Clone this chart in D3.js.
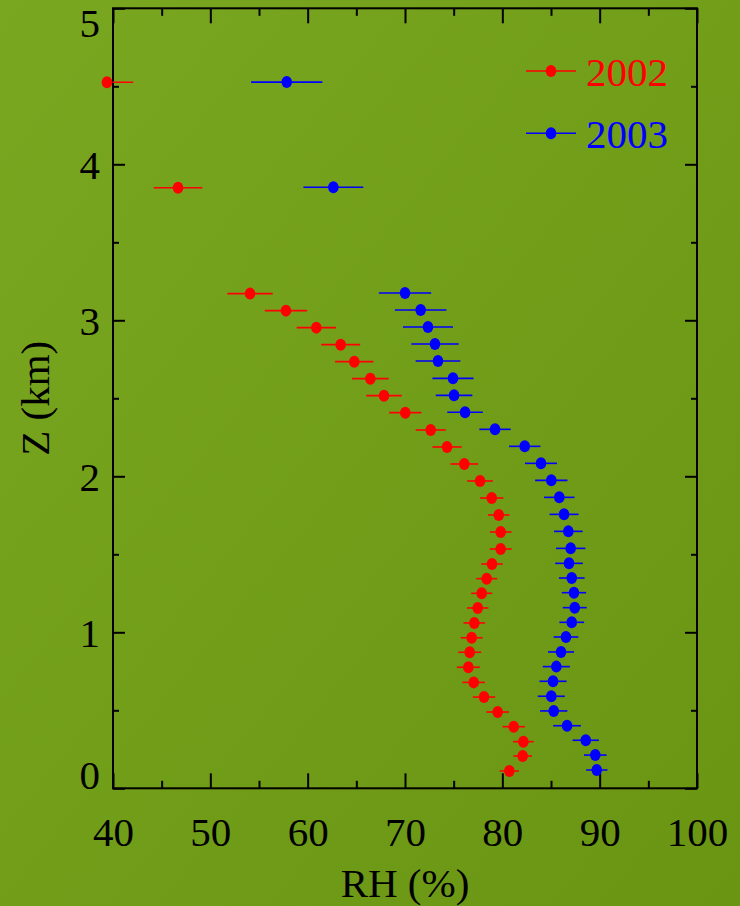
<!DOCTYPE html>
<html>
<head>
<meta charset="utf-8">
<script src="https://cdn.jsdelivr.net/npm/d3@7"></script>
<style>
html,body{margin:0;padding:0;background:#74a01c;}
svg{display:block;}
text{font-family:"Liberation Serif","Times New Roman",serif;}
</style>
</head>
<body>
<svg id="chart" width="740" height="906"></svg>
<script>
// ---- data ----
const xTicks = [40, 50, 60, 70, 80, 90, 100];
const xMinorTicks = [45, 55, 65, 75, 85, 95];
const yTicks = [0, 1, 2, 3, 4, 5];
const yMinorTicks = [0.5, 1.5, 2.5, 3.5, 4.5];
const seriesNames = ["2002", "2003"];
const seriesColors = ["#ff0000", "#0000ff"];

const z2002 = [4.526, 3.850, 3.171, 3.062, 2.953, 2.844, 2.735, 2.626, 2.517, 2.408, 2.297, 2.188, 2.079, 1.970, 1.861, 1.752, 1.643, 1.534, 1.438, 1.344, 1.250, 1.156, 1.060, 0.965, 0.872, 0.776, 0.679, 0.585, 0.489, 0.395, 0.299, 0.207, 0.111];
const rh2002 = [39.38, 46.68, 54.08, 57.77, 60.89, 63.39, 64.79, 66.44, 67.84, 70.03, 72.64, 74.32, 76.09, 77.71, 78.91, 79.63, 79.83, 79.83, 78.94, 78.39, 77.88, 77.47, 77.12, 76.85, 76.65, 76.51, 77.06, 78.12, 79.52, 81.17, 82.16, 82.09, 80.72];
const err2002 = [2.70, 2.50, 2.33, 2.17, 2.02, 2.00, 1.97, 1.88, 1.82, 1.66, 1.54, 1.50, 1.42, 1.32, 1.20, 1.11, 1.11, 1.13, 1.10, 1.08, 1.08, 1.10, 1.11, 1.13, 1.18, 1.18, 1.16, 1.15, 1.16, 1.15, 1.06, 0.96, 0.99];

const z2003 = [4.527, 3.853, 3.175, 3.066, 2.957, 2.848, 2.739, 2.628, 2.519, 2.411, 2.301, 2.192, 2.083, 1.974, 1.865, 1.756, 1.647, 1.538, 1.442, 1.348, 1.254, 1.158, 1.064, 0.970, 0.874, 0.780, 0.686, 0.590, 0.496, 0.401, 0.308, 0.213, 0.117];
const rh2003 = [57.85, 62.64, 70.00, 71.61, 72.36, 73.08, 73.39, 74.93, 75.04, 76.17, 79.25, 82.30, 83.97, 85.03, 85.85, 86.34, 86.78, 87.02, 86.85, 87.13, 87.36, 87.44, 87.13, 86.54, 86.03, 85.55, 85.21, 85.03, 85.28, 86.65, 88.57, 89.55, 89.70];
const err2003 = [3.66, 3.08, 2.69, 2.65, 2.57, 2.43, 2.30, 2.11, 1.88, 1.83, 1.61, 1.61, 1.64, 1.66, 1.56, 1.49, 1.47, 1.51, 1.42, 1.32, 1.25, 1.23, 1.27, 1.27, 1.34, 1.39, 1.39, 1.39, 1.40, 1.42, 1.35, 1.16, 1.10];

const xTitle = "RH (%)";
const yTitle = "Z (km)";

// ---- layout ----
const W = 740, H = 906;
const L = 113, R = 697, T = 8.3, B = 788.3;
const svg = d3.select("#chart");

const defs = svg.append("defs");
const grad = defs.append("linearGradient").attr("id", "bg")
  .attr("x1", "0").attr("y1", "0").attr("x2", "1").attr("y2", "1");
grad.append("stop").attr("offset", "0").attr("stop-color", "#7aa720");
grad.append("stop").attr("offset", "1").attr("stop-color", "#699513");
svg.append("rect").attr("width", W).attr("height", H).attr("fill", "url(#bg)");

defs.append("clipPath").attr("id", "plotclip")
  .append("rect").attr("x", L).attr("y", T).attr("width", R - L).attr("height", B - T);

const x = d3.scaleLinear().domain([40, 100]).range([L, R]);
const y = d3.scaleLinear().domain([0, 5]).range([B, T]);

const fs = 41;

function styleAxis(g) {
  g.select(".domain").remove();
  g.selectAll(".tick line").attr("stroke", "#000").attr("stroke-width", 2);
}

// bottom axis
const gB = svg.append("g").attr("transform", `translate(0,${B})`)
  .call(d3.axisBottom(x).tickValues(xTicks).tickSize(-15).tickFormat(d3.format("d")));
styleAxis(gB);
gB.selectAll(".tick text").attr("y", 58).attr("dy", 0)
  .attr("font-size", fs).attr("fill", "#000").attr("font-family", "Liberation Serif");
svg.append("g").attr("transform", `translate(0,${B})`)
  .call(d3.axisBottom(x).tickValues(xMinorTicks).tickSize(-7.5).tickFormat("")).call(styleAxis);

// top axis
svg.append("g").attr("transform", `translate(0,${T})`)
  .call(d3.axisTop(x).tickValues(xTicks).tickSize(-15).tickFormat("")).call(styleAxis);
svg.append("g").attr("transform", `translate(0,${T})`)
  .call(d3.axisTop(x).tickValues(xMinorTicks).tickSize(-7.5).tickFormat("")).call(styleAxis);

// left axis
const gL = svg.append("g").attr("transform", `translate(${L},0)`)
  .call(d3.axisLeft(y).tickValues(yTicks).tickSize(-12).tickFormat(d3.format("d")));
styleAxis(gL);
gL.selectAll(".tick").each(function(d) {
  const ty = y(d);
  const cy = Math.max(T + 14, Math.min(B - 14, ty));
  d3.select(this).select("text")
    .attr("x", -13).attr("y", cy - ty).attr("dy", "0.34em")
    .attr("text-anchor", "end")
    .attr("font-size", fs).attr("fill", "#000").attr("font-family", "Liberation Serif");
});
svg.append("g").attr("transform", `translate(${L},0)`)
  .call(d3.axisLeft(y).tickValues(yMinorTicks).tickSize(-6).tickFormat("")).call(styleAxis);

// right axis
svg.append("g").attr("transform", `translate(${R},0)`)
  .call(d3.axisRight(y).tickValues(yTicks).tickSize(-12).tickFormat("")).call(styleAxis);
svg.append("g").attr("transform", `translate(${R},0)`)
  .call(d3.axisRight(y).tickValues(yMinorTicks).tickSize(-6).tickFormat("")).call(styleAxis);

// frame
svg.append("rect").attr("x", L).attr("y", T).attr("width", R - L).attr("height", B - T)
  .attr("fill", "none").attr("stroke", "#000").attr("stroke-width", 2);

// titles
svg.append("text").attr("x", x(70)).attr("y", 897).attr("text-anchor", "middle")
  .attr("font-size", fs).attr("fill", "#000").text(xTitle);
svg.append("text").attr("transform", `translate(49,${(T + B) / 2}) rotate(-90)`)
  .attr("text-anchor", "middle").attr("font-size", fs).attr("fill", "#000").text(yTitle);

// series
const series = [
  {z: z2002, rh: rh2002, err: err2002},
  {z: z2003, rh: rh2003, err: err2003}
];
series.forEach((s, i) => {
  const pts = s.z.map((zz, k) => ({z: zz, rh: s.rh[k], e: s.err[k]}));
  const col = seriesColors[i];
  svg.append("g").attr("clip-path", "url(#plotclip)")
    .selectAll("line").data(pts).join("line")
    .attr("x1", d => x(d.rh - d.e)).attr("x2", d => x(d.rh + d.e))
    .attr("y1", d => y(d.z)).attr("y2", d => y(d.z))
    .attr("stroke", col).attr("stroke-width", 1.6);
  svg.append("g").selectAll("ellipse").data(pts).join("ellipse")
    .attr("cx", d => x(d.rh)).attr("cy", d => y(d.z))
    .attr("rx", 5.3).attr("ry", 6).attr("fill", col);
});

// legend
const legY = [71, 133.3];
seriesNames.forEach((name, i) => {
  const g = svg.append("g");
  g.append("line").attr("x1", 526).attr("x2", 576).attr("y1", legY[i]).attr("y2", legY[i])
    .attr("stroke", seriesColors[i]).attr("stroke-width", 1.6);
  g.append("ellipse").attr("cx", 551).attr("cy", legY[i]).attr("rx", 5.3).attr("ry", 6)
    .attr("fill", seriesColors[i]);
  g.append("text").attr("x", 586).attr("y", legY[i] + 15).attr("font-size", fs)
    .attr("fill", seriesColors[i]).text(name);
});
</script>
</body>
</html>
